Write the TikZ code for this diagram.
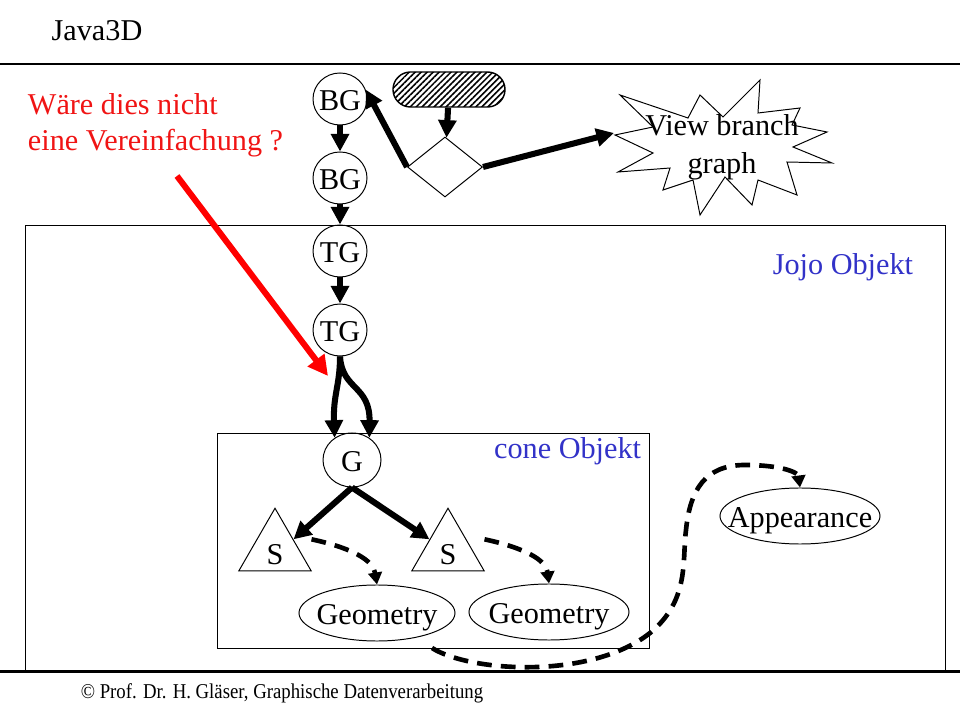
\documentclass[tikz,border=0pt]{standalone}
\usepackage{fontspec}
\setmainfont{Liberation Serif}
\usetikzlibrary{shapes.geometric,shapes.misc,arrows.meta,patterns.meta}
\definecolor{redtxt}{RGB}{240,20,20}
\definecolor{bluetxt}{RGB}{50,50,200}
\newcommand\zw[1]{\makebox[0pt]{#1}}
\tikzset{
  big/.style={font=\fontsize{21.5}{25.5}\selectfont},
  circ/.style={ellipse,draw,line width=0.7pt,inner sep=0pt,big,minimum width=1.35cm,minimum height=1.3cm,text height=16pt,text depth=0pt},
  tarrow/.style={line width=4.3pt,-{Triangle[length=0.44cm,width=0.44cm]}},
  redarrow/.style={line width=4.3pt,draw=red,-{Triangle[length=0.5cm,width=0.5cm]}},
  dasharrow/.style={line width=3.3pt,dash pattern=on 10.5pt off 6.5pt,-{Triangle[length=0.3cm,width=0.34cm]}},
  tri/.style={regular polygon,regular polygon sides=3,draw,line width=0.7pt,minimum size=1.848cm,inner sep=0pt,big,text height=21pt,text depth=0pt},
  boxframe/.style={draw,line width=0.7pt,inner sep=0pt,anchor=north west},
}
\begin{document}
\begin{tikzpicture}[x=0.025cm,y=-0.025cm]
\useasboundingbox (0,0) rectangle (960,720);
% rules
\draw[line width=1pt] (0,64) -- (960,64);
% boxes
\node[boxframe,minimum width=23cm,minimum height=11.15cm] (jojo) at (25,225) {};
\node[boxframe,minimum width=10.8cm,minimum height=5.375cm] (cone) at (217,433) {};
\draw[line width=1.5pt] (0,671.5) -- (960,671.5);
% texts
\node[big] (title) at (97,31) {Java3D};
\node[big,text=redtxt,align=left,anchor=west] (note) at (23,125) {Wäre dies nicht\\eine Vereinfachung ?};
\node[big,text=bluetxt,anchor=east] (jojot) at (918,267) {Jojo Objekt};
\node[big,text=bluetxt,anchor=east] (conet) at (646,451) {cone Objekt};
\node[font=\fontsize{15}{18}\selectfont] (foot) at (282,693) {\scalebox{0.89}[1]{© Prof. Dr. H. Gläser, Graphische Datenverarbeitung}};
% star
\draw[line width=0.7pt,fill=white] (620,95) -- (688,118) -- (700,95) -- (723,117) -- (760,80) -- (758,113) -- (800,108) -- (792,125) -- (827,132) -- (793,147) -- (832,163) -- (787,162) -- (797,195) -- (758,180) -- (752,205) -- (725,177) -- (700,215) -- (693,180) -- (663,190) -- (670,168) -- (618,172) -- (653,153) -- (615,135) -- (653,127) -- cycle;
\node[font=\fontsize{21.5}{27}\selectfont,align=center] (view) at (722,147) {View branch\\graph};
\coordinate (starL) at (614,133);
% nodes
\node[circ] (bg1) at (340,99) {\zw{BG}};
\node[circ] (bg2) at (340,178) {\zw{BG}};
\node[circ] (tg1) at (340,251) {\zw{TG}};
\node[circ] (tg2) at (340,330) {\zw{TG}};
\node[circ,minimum width=1.45cm,minimum height=1.35cm] (g) at (352,460) {\zw{G}};
\node[rounded rectangle,draw,line width=1pt,minimum width=2.8cm,minimum height=0.875cm,inner sep=0pt,pattern={Lines[angle=45,distance=3pt,line width=1.1pt]}] (hatch) at (449,89.5) {};
\node[diamond,draw,line width=0.7pt,minimum width=1.875cm,minimum height=1.5cm,inner sep=0pt] (dia) at (445,167) {};
\node[tri] (s1) at (275,550) {S};
\node[tri] (s2) at (448,550) {S};
\node[circ,minimum width=3.9cm,minimum height=1.4cm] (geom1) at (377,613) {\zw{Geometry}};
\node[circ,minimum width=4cm,minimum height=1.4cm] (geom2) at (549,612) {\zw{Geometry}};
\node[circ,minimum width=4cm,minimum height=1.4cm] (app) at (800,516) {\zw{Appearance}};
% arrows
\draw[tarrow] (bg1) -- (bg2);
\draw[tarrow] (bg2) -- (tg1);
\draw[tarrow] (tg1) -- (tg2);
\draw[tarrow] (hatch) -- (dia);
\draw[tarrow] (dia.west) -- (bg1.20);
\draw[tarrow] (dia.east) -- (starL);
\draw[tarrow] (tg2.south) .. controls (340,385) and (333,395) .. (g.128);
\draw[tarrow] (tg2.south) .. controls (342,390) and (370,385) .. (g.52);
\draw[tarrow] (g.south) -- (s1.30);
\draw[tarrow] (g.south) -- (s2.150);
\draw[dasharrow] ([xshift=0.45cm]s1.30) .. controls (352,548) and (373,560) .. (geom1.north);
\draw[dasharrow] ([xshift=0.45cm]s2.30) .. controls (525,548) and (546,560) .. (geom2.north);
\draw[dasharrow] ([shift={(55,35)}]geom1.center) .. controls (470,672) and (590,680) .. (650,633) .. controls (690,600) and (682,560) .. (686,530) .. controls (690,490) and (705,465) .. (745,465) .. controls (780,465) and (798,472) .. (app.north);
% red arrow
\coordinate (redstart) at (177,176);
\coordinate (redend) at (328,376);
\draw[redarrow] (redstart) -- (redend);
\end{tikzpicture}
\end{document}
